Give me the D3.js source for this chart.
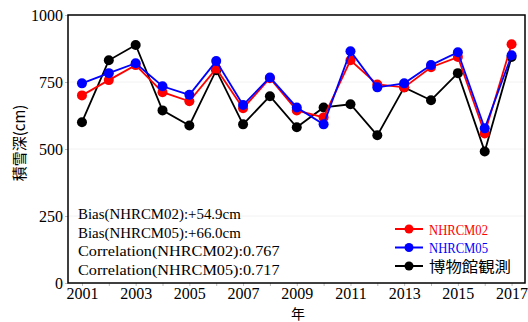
<!DOCTYPE html>
<html>
<head>
<meta charset="utf-8">
<script src="https://cdn.jsdelivr.net/npm/d3@7"></script>
<style>
  body { margin: 0; background: #fff; }
</style>
</head>
<body>
<div id="chart"></div>
<script>
// Data
const years = [2001, 2002, 2003, 2004, 2005, 2006, 2007, 2008, 2009,
               2010, 2011, 2012, 2013, 2014, 2015, 2016, 2017];
const nhrcm02 = [700, 757, 813, 712, 678, 800, 652, 764, 644,
                 618, 831, 741, 730, 805, 843, 558, 891];
const nhrcm05 = [745, 783, 820, 734, 702, 828, 664, 767, 655,
                 592, 865, 730, 745, 813, 861, 577, 850];
const observed = [600, 831, 888, 644, 588, 794, 592, 697, 581,
                  655, 667, 551, 730, 682, 783, 491, 843];
const yTicks = [0, 250, 500, 750, 1000];
const xTicks = [2001, 2003, 2005, 2007, 2009, 2011, 2013, 2015, 2017];
const statLines = [
    'Bias(NHRCM02):+54.9cm',
    'Bias(NHRCM05):+66.0cm',
    'Correlation(NHRCM02):0.767',
    'Correlation(NHRCM05):0.717'
];
const series = [
    { name: 'NHRCM02', values: nhrcm02, color: '#ff0000' },
    { name: 'NHRCM05', values: nhrcm05, color: '#0000ff' },
    { name: '博物館観測', values: observed, color: '#000000' }
];

const W = 528, H = 322;
const margin = { left: 68, right: 3, top: 15, bottom: 39 };
const serif = '"Liberation Serif", serif';
const cjk = '"Noto Sans CJK JP", sans-serif';

const svg = d3.select('#chart')
    .append('svg')
    .attr('width', W)
    .attr('height', H);

const x = d3.scaleLinear()
    .domain([2000.48, 2017.5])
    .range([margin.left, W - margin.right]);

const y = d3.scaleLinear()
    .domain([0, 1000])
    .range([H - margin.bottom, margin.top]);

// faint grid
svg.append('g')
    .selectAll('line')
    .data(yTicks.slice(1, -1))
    .join('line')
    .attr('x1', margin.left)
    .attr('x2', W - margin.right)
    .attr('y1', d => y(d))
    .attr('y2', d => y(d))
    .attr('stroke', '#f2f2f2')
    .attr('stroke-width', 1);

// x axis
const xAxis = d3.axisBottom(x)
    .tickValues(years)
    .tickSize(3)
    .tickFormat(d => xTicks.includes(d) ? String(d) : '');

const gx = svg.append('g')
    .attr('transform', `translate(0, ${H - margin.bottom})`)
    .call(xAxis);
gx.select('.domain').remove();
gx.selectAll('.tick line').attr('stroke', '#bbb');
gx.selectAll('text')
    .attr('fill', '#000')
    .attr('dy', '0.6em')
    .style('font-family', serif)
    .style('font-size', '16px');

// y axis
const yAxis = d3.axisLeft(y)
    .tickValues(yTicks)
    .tickSize(3)
    .tickFormat(d3.format('d'));

const gy = svg.append('g')
    .attr('transform', `translate(${margin.left}, 0)`)
    .call(yAxis);
gy.select('.domain').remove();
gy.selectAll('.tick line').attr('stroke', '#bbb');
gy.selectAll('text')
    .attr('fill', '#000')
    .attr('x', -5)
    .style('font-family', serif)
    .style('font-size', '16px');

// frame
svg.append('rect')
    .attr('x', margin.left)
    .attr('y', margin.top)
    .attr('width', W - margin.left - margin.right)
    .attr('height', H - margin.top - margin.bottom)
    .attr('fill', 'none')
    .attr('stroke', '#000')
    .attr('stroke-width', 1.5);

// lines and markers (observed drawn first, models on top)
const line = d3.line()
    .x((d, i) => x(years[i]))
    .y(d => y(d));

[series[2], series[0], series[1]].forEach(s => {
    svg.append('path')
        .datum(s.values)
        .attr('d', line)
        .attr('fill', 'none')
        .attr('stroke', s.color)
        .attr('stroke-width', 1.8);

    svg.append('g')
        .selectAll('circle')
        .data(s.values)
        .join('circle')
        .attr('cx', (d, i) => x(years[i]))
        .attr('cy', d => y(d))
        .attr('r', 5)
        .attr('fill', s.color);
});

// statistics text
svg.append('g')
    .selectAll('text')
    .data(statLines)
    .join('text')
    .attr('x', 78)
    .attr('y', (d, i) => 219 + i * 18.5)
    .attr('textLength', d => d.length * 7.75)
    .attr('lengthAdjust', 'spacingAndGlyphs')
    .style('font-family', serif)
    .style('font-size', '15px')
    .text(d => d);

// legend
const legend = svg.append('g');
series.forEach((s, i) => {
    const ly = 229 + i * 18.5;
    legend.append('line')
        .attr('x1', 395).attr('x2', 423)
        .attr('y1', ly).attr('y2', ly)
        .attr('stroke', s.color)
        .attr('stroke-width', 2);
    legend.append('circle')
        .attr('cx', 409).attr('cy', ly)
        .attr('r', 4.5)
        .attr('fill', s.color);
    const t = legend.append('text')
        .attr('x', 429)
        .attr('y', ly + 5.5)
        .attr('fill', s.color)
        .text(s.name);
    if (i < 2) {
        t.style('font-family', serif)
            .style('font-size', '15.5px')
            .attr('textLength', 59)
            .attr('lengthAdjust', 'spacingAndGlyphs');
    } else {
        t.style('font-family', cjk)
            .style('font-size', '15px')
            .attr('textLength', 82)
            .attr('lengthAdjust', 'spacingAndGlyphs');
    }
});

// axis titles
svg.append('text')
    .attr('transform', `translate(25, ${y(500) - 6}) rotate(-90)`)
    .attr('text-anchor', 'middle')
    .style('font-family', cjk)
    .style('font-size', '15px')
    .text('積雪深(cm)');

svg.append('text')
    .attr('x', 298)
    .attr('y', 318.5)
    .attr('text-anchor', 'middle')
    .style('font-family', cjk)
    .style('font-size', '14px')
    .text('年');
</script>
</body>
</html>
